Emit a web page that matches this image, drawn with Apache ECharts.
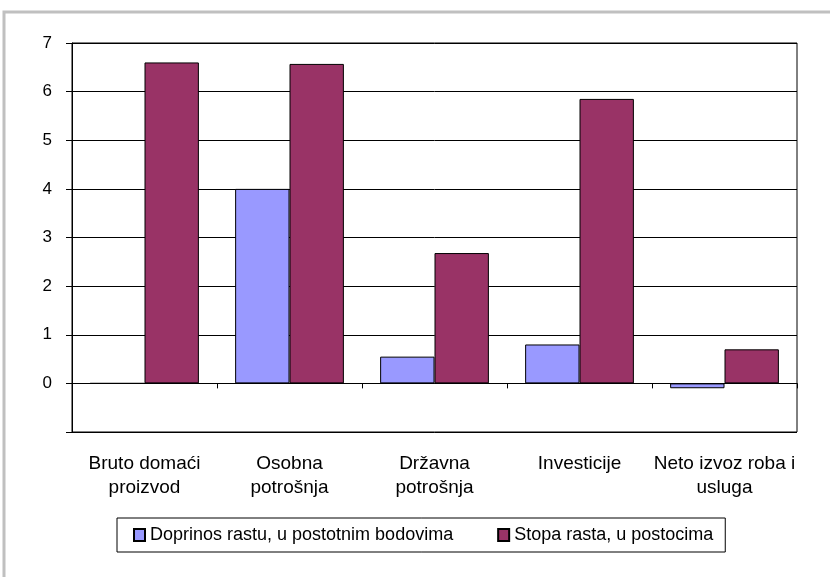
<!DOCTYPE html>
<html>
<head>
<meta charset="utf-8">
<script src="https://cdn.jsdelivr.net/npm/echarts@6/dist/echarts.min.js"></script>
<style>
  html, body { margin: 0; padding: 0; background: #fff; }
  #chart { width: 830px; height: 577px; }
</style>
</head>
<body>
<div id="chart"></div>
<script>
// podaci
const categories = ['Bruto domaći\nproizvod', 'Osobna\npotrošnja', 'Državna\npotrošnja', 'Investicije', 'Neto izvoz roba i\nusluga'];
const doprinos = [0, 4.0, 0.55, 0.8, -0.1];
const stopa = [6.6, 6.57, 2.68, 5.85, 0.7];
const yTicks = [-1, 0, 1, 2, 3, 4, 5, 6, 7];

const FONT = 'Liberation Sans, Arial, sans-serif';

const chart = echarts.init(document.getElementById('chart'));

chart.setOption({
  animation: false,
  backgroundColor: '#fff',
  textStyle: { fontFamily: FONT, color: '#000' },
  graphic: [
    {
      type: 'rect',
      shape: { x: 4, y: 12, width: 900, height: 700 },
      style: { fill: 'none', stroke: '#c0c0c0', lineWidth: 3 },
      silent: true
    }
  ],
  grid: {
    left: 72, right: 33, top: 43, bottom: 145,
    show: true, borderColor: '#000', borderWidth: 1
  },
  legend: {
    left: 117, top: 518,
    padding: [8, 12, 8, 16],
    borderColor: '#000',
    borderWidth: 1,
    itemWidth: 11,
    itemHeight: 12,
    itemGap: 44,
    textStyle: { fontSize: 18, color: '#000', fontFamily: FONT },
    data: [
      { name: 'Doprinos rastu, u postotnim bodovima', icon: 'rect' },
      { name: 'Stopa rasta, u postocima', icon: 'rect' }
    ]
  },
  xAxis: [
    {
      type: 'category',
      data: categories,
      position: 'bottom',
      axisLine: { show: false, onZero: false },
      axisTick: { show: false },
      axisLabel: { fontSize: 19, color: '#000', margin: 20, lineHeight: 24, interval: 0 }
    },
    {
      type: 'category',
      data: categories,
      position: 'bottom',
      axisLine: { show: true, onZero: true, lineStyle: { color: '#000', width: 1 } },
      axisTick: { show: true, length: 5, lineStyle: { color: '#000' } },
      axisLabel: { show: false }
    }
  ],
  yAxis: {
    type: 'value',
    min: yTicks[0],
    max: yTicks[yTicks.length - 1],
    interval: 1,
    axisLine: { show: true, lineStyle: { color: '#000' } },
    axisTick: { show: true, length: 6, lineStyle: { color: '#000' } },
    axisLabel: {
      fontSize: 17, color: '#000', margin: 20,
      formatter: v => (v < 0 ? '' : String(v))
    },
    splitLine: { show: true, lineStyle: { color: '#000', width: 1 } }
  },
  series: [
    {
      name: 'Doprinos rastu, u postotnim bodovima',
      type: 'bar',
      data: doprinos,
      barGap: '0%',
      barCategoryGap: '25%',
      itemStyle: { color: '#9999ff', borderColor: '#000', borderWidth: 1 }
    },
    {
      name: 'Stopa rasta, u postocima',
      type: 'bar',
      data: stopa,
      barGap: '0%',
      barCategoryGap: '25%',
      itemStyle: { color: '#993366', borderColor: '#000', borderWidth: 1 }
    }
  ]
});
</script>
</body>
</html>
